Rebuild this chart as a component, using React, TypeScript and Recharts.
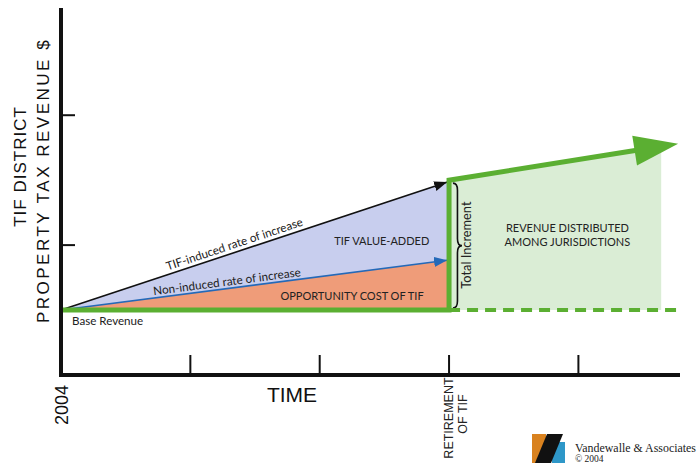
import React from "react";
import {
  ComposedChart,
  Area,
  Line,
  XAxis,
  YAxis,
  ReferenceDot,
  ReferenceArea,
} from "recharts";

// time axis (years after 2004, arbitrary units) and revenue axis ticks
const TIME_TICKS = [0, 1, 2, 3, 4];
const REVENUE_TICKS = [1, 2];
const TIME_LABELS: Record<number, string[]> = {
  0: ["2004"],
  3: ["RETIREMENT", "OF TIF"],
};

const BASE_REVENUE = 0.5;
const growthYears = [0, 3];
const tifInduced = [0.5, 1.49];
const nonInduced = [0.5, 0.885];
const postYears = [3, 4.64];
const postRevenue = [1.5, 1.76];
const greenYears = [0, 3, 3, 4.45];
const greenRevenue = [0.5, 0.5, 1.5, 1.73];
const dashYears = [3, 4.77];

const GREEN = "#5BAF32";
const FONT = "Lato, 'Liberation Sans', Arial, sans-serif";

const growthData = growthYears.map((t, i) => ({
  t,
  base: BASE_REVENUE,
  tif: tifInduced[i],
  non: nonInduced[i],
}));
const postData = postYears.map((t, i) => ({ t, base: BASE_REVENUE, rev: postRevenue[i] }));
const greenData = greenYears.map((t, i) => ({ t, v: greenRevenue[i] }));
const dashData = dashYears.map((t) => ({ t, v: BASE_REVENUE }));

// text notes placed in data units
const NOTES = [
  { x: 1.36, y: 0.949, text: "TIF-induced rate of increase", size: 11.7, angle: -18.4, dy: -4, anchor: "middle" },
  { x: 1.29, y: 0.665, text: "Non-induced rate of increase", size: 11.7, angle: -7.4, dy: -3, anchor: "middle" },
  { x: 2.48, y: 1.0, text: "TIF VALUE-ADDED", size: 11, angle: 0, dy: 0, anchor: "middle" },
  { x: 2.25, y: 0.577, text: "OPPORTUNITY COST OF TIF", size: 11, angle: 0, dy: 0, anchor: "middle" },
  { x: 0.085, y: 0.385, text: "Base Revenue", size: 11.6, angle: 0, dy: 0, anchor: "start" },
  { x: 3.915, y: 1.1, text: "REVENUE DISTRIBUTED", size: 11, angle: 0, dy: 0, anchor: "middle" },
  { x: 3.915, y: 0.99, text: "AMONG JURISDICTIONS", size: 11, angle: 0, dy: 0, anchor: "middle" },
  { x: 3.13, y: 1.0, text: "Total Increment", size: 12.8, angle: -90, dy: 0, anchor: "middle" },
];

const XTick = ({ x, y, payload }: any) => {
  const lines = TIME_LABELS[payload.value] || [];
  return (
    <g>
      {payload.value > 0 && (
        <line x1={x} y1={y} x2={x} y2={y - 20} stroke="#111" strokeWidth={2} />
      )}
      {payload.value === 0 && (
        <text
          transform={`translate(${x + 1},${y + 30}) rotate(-90)`}
          textAnchor="middle"
          dominantBaseline="central"
          fontSize={18}
          fontFamily="'Liberation Sans', Arial, sans-serif"
          fill="#111"
        >
          {lines[0]}
        </text>
      )}
      {payload.value === 3 &&
        lines.map((s, i) => (
          <text
            key={s}
            transform={`translate(${x + i * 14},${y + 43 - i * 4}) rotate(-90)`}
            textAnchor="middle"
            dominantBaseline="central"
            fontSize={12.5}
            fontFamily="'Liberation Sans Narrow', 'Liberation Sans', Arial, sans-serif"
            fill="#222"
          >
            {s}
          </text>
        ))}
    </g>
  );
};

const YTick = ({ x, y }: any) => (
  <line x1={x} y1={y} x2={x + 14} y2={y} stroke="#111" strokeWidth={2} />
);

const YTitle = ({ viewBox }: any) => {
  const { x, y, height } = viewBox;
  const cy = y + height / 2;
  return (
    <g fontFamily="'Liberation Sans', Arial, sans-serif" fontSize={17} fill="#111">
      <text
        transform={`translate(${x + 20},${cy - 26}) rotate(-90)`}
        textAnchor="middle"
        dominantBaseline="central"
        letterSpacing={1}
      >
        TIF DISTRICT
      </text>
      <text
        transform={`translate(${x + 43},${cy - 12}) rotate(-90)`}
        textAnchor="middle"
        dominantBaseline="central"
        letterSpacing={2.5}
      >
        PROPERTY TAX REVENUE $
      </text>
    </g>
  );
};

const XTitle = ({ viewBox }: any) => {
  const { x, y } = viewBox;
  return (
    <text
      x={x + 231}
      y={y + 27}
      textAnchor="middle"
      fontSize={21}
      fontFamily="'Liberation Sans', Arial, sans-serif"
      fill="#111"
    >
      TIME
    </text>
  );
};

const Brace = ({ x, y, width, height }: any) => {
  const xm = x + width / 2;
  const ym = y + height / 2;
  const d = `M${x},${y} Q${xm},${y} ${xm},${y + 7} L${xm},${ym - 7} Q${xm},${ym} ${x + width},${ym} Q${xm},${ym} ${xm},${ym + 7} L${xm},${y + height - 7} Q${xm},${y + height} ${x},${y + height}`;
  return <path d={d} fill="none" stroke="#111" strokeWidth={1.6} />;
};

export default function App() {
  return (
    <div style={{ position: "absolute", left: 0, top: 0, width: 700, height: 463, background: "#fff" }}>
      <ComposedChart
        width={700}
        height={463}
        margin={{ top: 10, right: 22, bottom: 0, left: 0 }}
      >
        <defs>
          <marker id="arrowBlack" markerUnits="userSpaceOnUse" markerWidth={13} markerHeight={10} refX={15} refY={5} orient="auto">
            <path d="M0,0 L13,5 L0,10 z" fill="#111" />
          </marker>
          <marker id="arrowBlue" markerUnits="userSpaceOnUse" markerWidth={13} markerHeight={10} refX={15} refY={5} orient="auto">
            <path d="M0,0 L13,5 L0,10 z" fill="#2469B8" />
          </marker>
          <marker id="arrowGreen" markerUnits="userSpaceOnUse" markerWidth={44} markerHeight={30} refX={2} refY={15} orient="auto" overflow="visible">
            <path d="M0,0 L44,15 L0,30 z" fill={GREEN} />
          </marker>
        </defs>
        <XAxis
          dataKey="t"
          type="number"
          domain={[0, 4.77]}
          ticks={TIME_TICKS}
          tick={<XTick />}
          tickLine={false}
          tickSize={0}
          tickMargin={0}
          height={88}
          axisLine={{ stroke: "#111", strokeWidth: 4, strokeLinecap: "square" }}
          label={<XTitle />}
        />
        <YAxis
          type="number"
          domain={[0, 2.81]}
          ticks={REVENUE_TICKS}
          tick={<YTick />}
          tickLine={false}
          tickSize={0}
          tickMargin={0}
          width={61}
          axisLine={{ stroke: "#111", strokeWidth: 4, strokeLinecap: "square" }}
          label={<YTitle />}
        />
        <Area
          data={postData}
          dataKey={(d: any) => [d.base, d.rev]}
          type="linear"
          stroke="none"
          fill="#DAEDD5"
          fillOpacity={1}
          isAnimationActive={false}
        />
        <Area
          data={growthData}
          dataKey={(d: any) => [d.non, d.tif]}
          type="linear"
          stroke="none"
          fill="#C8CEEE"
          fillOpacity={1}
          isAnimationActive={false}
        />
        <Area
          data={growthData}
          dataKey={(d: any) => [d.base, d.non]}
          type="linear"
          stroke="none"
          fill="#EF9C79"
          fillOpacity={1}
          isAnimationActive={false}
        />
        <Line
          data={growthData}
          dataKey="tif"
          type="linear"
          stroke="#111"
          strokeWidth={1.6}
          dot={false}
          markerEnd="url(#arrowBlack)"
          isAnimationActive={false}
        />
        <Line
          data={growthData}
          dataKey="non"
          type="linear"
          stroke="#2469B8"
          strokeWidth={1.6}
          dot={false}
          markerEnd="url(#arrowBlue)"
          isAnimationActive={false}
        />
        <Line
          data={dashData}
          dataKey="v"
          type="linear"
          stroke={GREEN}
          strokeWidth={4}
          strokeDasharray="11 7"
          dot={false}
          isAnimationActive={false}
        />
        <Line
          data={greenData}
          dataKey="v"
          type="linear"
          stroke={GREEN}
          strokeWidth={5}
          strokeLinejoin="miter"
          dot={false}
          markerEnd="url(#arrowGreen)"
          isAnimationActive={false}
        />
        <ReferenceArea x1={3.03} x2={3.1} y1={0.515} y2={1.477} shape={<Brace />} ifOverflow="visible" />
        {NOTES.map((n) => (
          <ReferenceDot
            key={n.text}
            x={n.x}
            y={n.y}
            r={0}
            ifOverflow="visible"
            shape={(p: any) => (
              <text
                transform={`translate(${p.cx},${p.cy}) rotate(${n.angle})`}
                dy={n.dy}
                textAnchor={n.anchor}
                dominantBaseline={n.angle === -90 ? "central" : "alphabetic"}
                fontSize={n.size}
                fontFamily={FONT}
                fill="#222"
              >
                {n.text}
              </text>
            )}
          />
        ))}
      </ComposedChart>
      <svg width={180} height={38} style={{ position: "absolute", left: 520, top: 425 }}>
        <rect x={12} y={9} width={14} height={29} fill="#D9821F" />
        <rect x={32} y={17} width={13} height={21} fill="#2E97C8" />
        <polygon points="27,9 43,9 31,38 15,38" fill="#111" />
        <text x={55} y={27} fontSize={12} textLength={121} lengthAdjust="spacingAndGlyphs" fontFamily="'Liberation Serif', serif" fill="#222">
          Vandewalle &amp; Associates
        </text>
        <text x={55} y={37} fontSize={9.5} fontFamily="'Liberation Serif', serif" fill="#222">
          © 2004
        </text>
      </svg>
    </div>
  );
}
